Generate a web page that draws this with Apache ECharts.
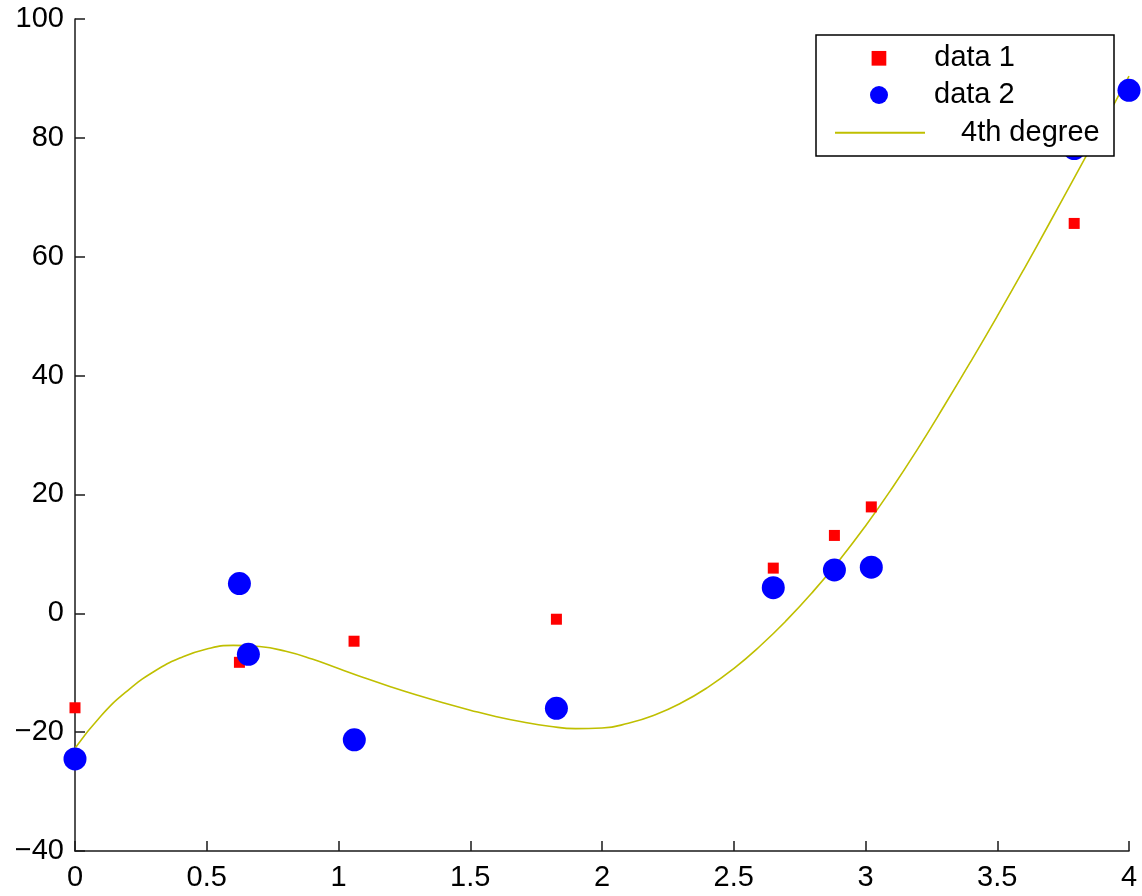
<!DOCTYPE html>
<html>
<head>
<meta charset="utf-8">
<script src="https://cdn.jsdelivr.net/npm/echarts@6/dist/echarts.min.js"></script>
<style>
html,body{margin:0;padding:0;background:#fff;}
#chart{width:1142px;height:896px;}
</style>
</head>
<body>
<div id="chart"></div>
<script>
// ---- data ----
const data1X = [0, 0.624, 1.059, 1.827, 2.650, 2.882, 3.022, 3.792];
const data1Y = [-15.9, -8.25, -4.7, -1.0, 7.6, 13.1, 17.9, 65.6];

const data2X = [0, 0.624, 0.658, 1.060, 1.827, 2.650, 2.882, 3.022, 3.792, 4.0];
const data2Y = [-24.5, 5.0, -6.9, -21.3, -16.0, 4.3, 7.3, 7.75, 78.2, 88.0];

// fitted curve, every 0.1
const fitX = [0, 0.1, 0.2, 0.3, 0.4, 0.5, 0.6, 0.7, 0.8, 0.9, 1.0, 1.1, 1.2, 1.3, 1.4, 1.5, 1.6, 1.7, 1.8, 1.9, 2.0,
              2.1, 2.2, 2.3, 2.4, 2.5, 2.6, 2.7, 2.8, 2.9, 3.0, 3.1, 3.2, 3.3, 3.4, 3.5, 3.6, 3.7, 3.8, 3.9, 4.0];
const fitY = [-22.7, -17.2, -13.0, -9.8, -7.5, -6.0, -5.4, -5.6, -6.4, -7.7, -9.3, -10.9, -12.4, -13.8, -15.1, -16.3, -17.4, -18.3, -19.0, -19.4, -19.3,
              -18.5, -17.1, -15.1, -12.5, -9.3, -5.5, -1.2, 3.6, 8.9, 14.7, 21.0, 27.8, 35.0, 42.4, 50.0, 57.8, 65.8, 73.9, 82.1, 90.4];

const seriesNames = ['data 1', 'data 2', '4th degree'];

const zip = (xs, ys) => xs.map((x, i) => [x, ys[i]]);
const FONT = "'Liberation Sans', Arial, Helvetica, sans-serif";
const FS = 29;

const chart = echarts.init(document.getElementById('chart'), null, {renderer: 'canvas'});
const legendText = {color: '#000', fontSize: FS, fontFamily: FONT};

chart.setOption({
  animation: false,
  backgroundColor: '#fff',
  grid: {left: 75, right: 13, top: 19, bottom: 45, containLabel: false},
  xAxis: {
    type: 'value', min: 0, max: 4, interval: 0.5,
    axisLine: {show: true, onZero: false, lineStyle: {color: '#1a1a1a', width: 1.5}},
    axisTick: {show: true, inside: true, length: 10, lineStyle: {color: '#1a1a1a', width: 1.5}},
    axisLabel: {color: '#000', fontSize: FS, fontFamily: FONT, margin: 12},
    splitLine: {show: false}
  },
  yAxis: {
    type: 'value', min: -40, max: 100, interval: 20,
    axisLine: {show: true, onZero: false, lineStyle: {color: '#1a1a1a', width: 1.5}},
    axisTick: {show: true, inside: true, length: 10, lineStyle: {color: '#1a1a1a', width: 1.5}},
    axisLabel: {color: '#000', fontSize: FS, fontFamily: FONT, margin: 11,
      formatter: v => String(v).replace('-', '\u2212')},
    splitLine: {show: false}
  },
  legend: [
    {data: [{name: seriesNames[0], icon: 'rect'}], left: 871.6, top: 43.8, orient: 'horizontal',
     itemWidth: 14.7, itemHeight: 14.7, padding: 0, selectedMode: false,
     textStyle: Object.assign({}, legendText, {padding: [0, 0, 0, 43]})},
    {data: [{name: seriesNames[1], icon: 'circle'}], left: 870, top: 80.5, orient: 'horizontal',
     itemWidth: 18, itemHeight: 18, padding: 0, selectedMode: false,
     textStyle: Object.assign({}, legendText, {padding: [0, 0, 0, 41]})},
    {data: [{name: seriesNames[2], itemStyle: {opacity: 0}}], left: 834, top: 118.2, orient: 'horizontal',
     itemWidth: 90, itemHeight: 14, padding: 0, selectedMode: false,
     textStyle: Object.assign({}, legendText, {padding: [0, 0, 0, 31]})}
  ],
  graphic: [{
    type: 'rect', z: 3, silent: true,
    shape: {x: 816, y: 35, width: 298, height: 121},
    style: {fill: '#fff', stroke: '#000', lineWidth: 1.5}
  }],
  series: [
    {name: seriesNames[0], type: 'scatter', symbol: 'rect', symbolSize: 11,
     itemStyle: {color: '#ff0000', opacity: 1}, data: zip(data1X, data1Y), z: 2},
    {name: seriesNames[1], type: 'scatter', symbol: 'circle', symbolSize: 23,
     itemStyle: {color: '#0000ff', opacity: 1}, data: zip(data2X, data2Y), z: 2},
    {name: seriesNames[2], type: 'line', symbol: 'none', smooth: true,
     lineStyle: {color: '#bfbf00', width: 1.6}, itemStyle: {color: '#bfbf00'},
     data: zip(fitX, fitY), z: 2}
  ]
});
</script>
</body>
</html>
